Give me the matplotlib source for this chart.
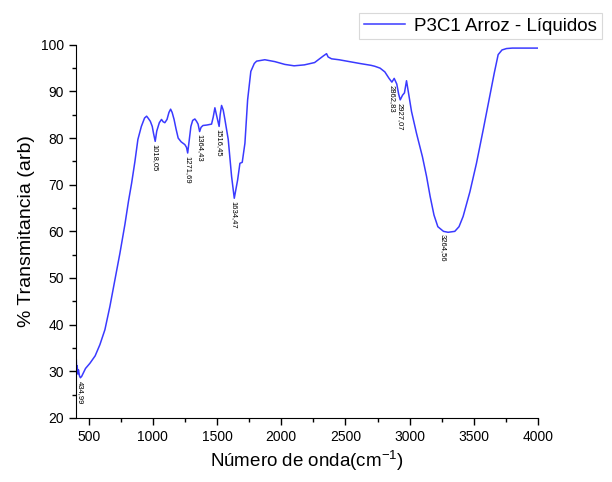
import matplotlib.pyplot as plt
from matplotlib.ticker import MultipleLocator

plt.rcParams['font.family'] = ['Liberation Sans', 'DejaVu Sans']

# FTIR spectrum
wavenumber = [400, 403, 406, 410, 415, 420, 428, 435, 445, 457, 475, 509, 550, 587,
              626, 665, 704, 743, 782, 810, 834, 860, 883, 910, 935, 951, 965, 980,
              995, 1005, 1018, 1030, 1050, 1067, 1080, 1093, 1110, 1125, 1138, 1150,
              1165, 1180, 1197, 1220, 1249, 1262, 1271, 1285, 1296, 1310, 1327, 1340,
              1352, 1364, 1375, 1390, 1420, 1457, 1470, 1483, 1495, 1508, 1516, 1524,
              1535, 1548, 1561, 1587, 1613, 1634, 1660, 1678, 1696, 1717, 1738, 1763,
              1790, 1808, 1872, 1950, 2028, 2100, 2180, 2260, 2327, 2353, 2365, 2392,
              2450, 2530, 2612, 2700, 2729, 2770, 2807, 2840, 2862, 2880, 2900, 2915,
              2927, 2945, 2960, 2976, 2989, 3015, 3054, 3100, 3132, 3160, 3190, 3220,
              3264, 3300, 3352, 3385, 3417, 3470, 3521, 3575, 3625, 3660, 3690, 3720,
              3755, 3800, 3900, 4000]
transmit = [31.0, 32.6, 30.2, 31.2, 29.4, 30.3, 29.0, 28.6, 28.9, 29.6, 30.6, 31.7, 33.3, 35.7,
            38.9, 43.9, 49.6, 55.3, 61.5, 66.5, 70.3, 75.0, 79.7, 82.5, 84.3, 84.7, 84.2, 83.6,
            82.5, 81.0, 79.3, 81.5, 83.3, 84.0, 83.5, 83.3, 84.0, 85.5, 86.2, 85.5,
            84.0, 82.0, 80.0, 79.2, 78.6, 78.0, 76.8, 80.0, 82.5, 83.8, 84.1, 83.6,
            83.0, 81.4, 82.3, 82.7, 82.8, 83.0, 84.5, 86.5, 85.0, 83.5, 82.5, 85.0,
            87.0, 86.0, 84.0, 79.7, 71.8, 67.1, 71.0, 74.6, 74.8, 78.9, 88.2, 94.3,
            96.0, 96.5, 96.8, 96.4, 95.8, 95.5, 95.7, 96.2, 97.6, 98.1, 97.4, 97.0,
            96.8, 96.4, 96.0, 95.6, 95.4, 95.0, 94.2, 92.8, 92.0, 92.8, 91.6, 89.4,
            88.2, 89.2, 89.7, 92.3, 90.1, 85.7, 81.0, 76.0, 71.8, 67.5, 63.5, 61.0,
            60.0, 59.8, 60.0, 61.0, 63.2, 68.5, 74.6, 82.0, 89.0, 94.0, 97.9, 98.9,
            99.2, 99.3, 99.3, 99.3]

# peak labels (position, label text)
peak_pos = [435, 1018, 1271, 1364, 1516, 1634, 2862, 2927, 3264]
peak_val = [28.6, 79.3, 76.8, 81.4, 82.5, 67.1, 92.0, 88.2, 60.0]
peak_txt = ['434,99', '1018,05', '1271,69', '1364,43', '1516,45', '1634,47',
            '2862,83', '2927,07', '3264,56']

fig = plt.figure(figsize=(6.12, 4.82), dpi=100)
ax = fig.add_axes([0.124, 0.133, 0.755, 0.774])

line, = ax.plot(wavenumber, transmit, color='#3a3aff', lw=1.1,
                label='P3C1 Arroz - Líquidos')

for xp, yp, t in zip(peak_pos, peak_val, peak_txt):
    ax.annotate(t, (xp, yp), xytext=(0, -2), textcoords='offset points',
                rotation=270, ha='center', va='top', fontsize=5.5, color='black')

ax.set_xlim(400, 4000)
ax.set_ylim(20, 100)
ax.xaxis.set_major_locator(MultipleLocator(500))
ax.xaxis.set_minor_locator(MultipleLocator(250))
ax.yaxis.set_major_locator(MultipleLocator(10))
ax.yaxis.set_minor_locator(MultipleLocator(5))
ax.tick_params(which='major', length=5, width=1, labelsize=10)
ax.tick_params(which='minor', length=3, width=1)
for s in ['top', 'right']:
    ax.spines[s].set_visible(False)

ax.set_xlabel(r'Número de onda(cm$\mathregular{^{-1}}$)', fontsize=13.5)
ax.set_ylabel('% Transmitancia (arb)', fontsize=14)

leg = fig.legend(handles=[line], loc='upper right', bbox_to_anchor=(0.999, 0.993),
                 fontsize=13.5, frameon=True, fancybox=False, handlelength=2.2,
                 borderpad=0.25, handletextpad=0.5, edgecolor='#d0d0d0')
leg.get_frame().set_linewidth(0.8)

fig.savefig('out.png', dpi=100)
